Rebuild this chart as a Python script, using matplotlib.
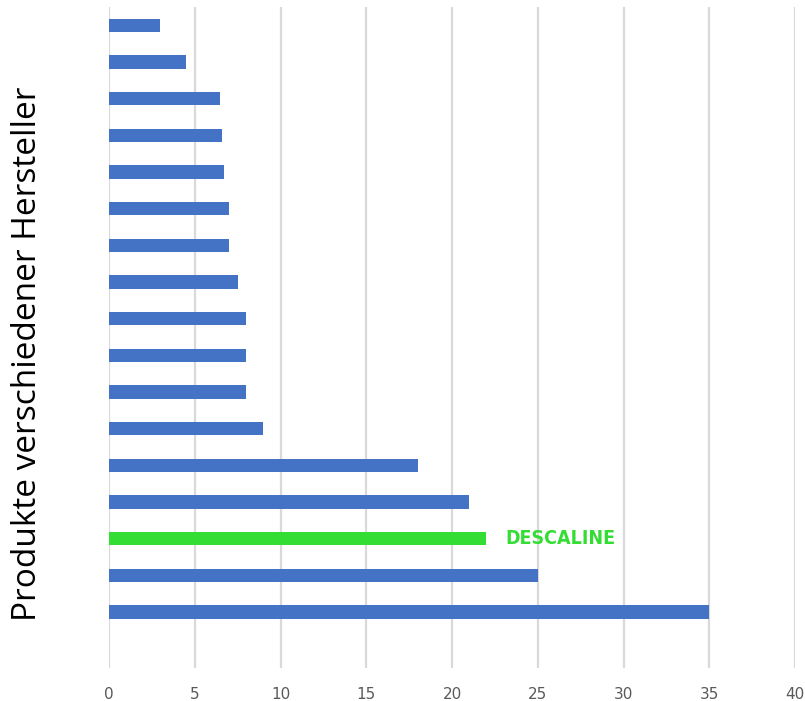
import matplotlib
matplotlib.use("Agg")
import matplotlib.pyplot as plt

values = [3, 4.5, 6.5, 6.6, 6.7, 7, 7, 7.5, 8, 8, 8, 9, 18, 21, 22, 25, 35]
highlight = "DESCALINE"
highlight_index = 14
xticks = [0, 5, 10, 15, 20, 25, 30, 35, 40]
ylabel = "Produkte verschiedener Hersteller"

blue = "#4472C4"
green = "#33DD33"

fig = plt.figure(figsize=(8.05, 7.01), dpi=100)
ax = fig.add_axes([109/805, 1-668/701, (795-109)/805, (668-7)/701])

n = len(values)
pos = [n - 1 - i for i in range(n)]
colors = [green if i == highlight_index else blue for i in range(n)]
ax.barh(pos, values, height=0.36, color=colors, zorder=3)

ax.set_xlim(0, 40)
ax.set_ylim(-1.53, n - 0.5)
ax.set_xticks(xticks)
ax.set_xticklabels([str(t) for t in xticks], fontsize=11, color="#595959", family="Liberation Sans Narrow")
ax.set_yticks([])
ax.tick_params(axis="x", length=0, pad=14)
for s in ax.spines.values():
    s.set_visible(False)
ax.grid(axis="x", color="#D9D9D9", linewidth=1.6, zorder=0)
ax.set_axisbelow(True)

ax.text(values[highlight_index] + 1.1, pos[highlight_index], highlight, color=green,
        fontsize=14, fontweight="bold", family="DejaVu Sans", fontstretch="condensed",
        va="center", ha="left")

fig.text(28/805, 1-354/701, ylabel, rotation=90, fontsize=24, family="Open Sans",
         va="center", ha="center", color="black")

fig.savefig("out.png", dpi=100)
